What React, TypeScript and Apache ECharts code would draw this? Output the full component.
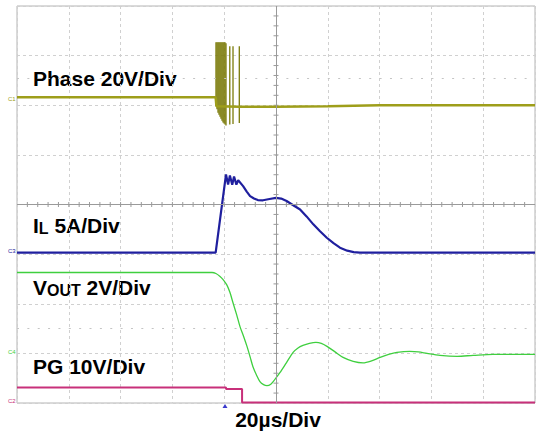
import React, { useEffect, useRef } from "react";
import * as echarts from "echarts";

// Time axis in µs (20 µs/div, 10 divisions), vertical axis in screen divisions (8 divisions, 0 = centre)
const xMin = -100;
const xMax = 100;
const yMin = -4;
const yMax = 4;
const xMinorStep = 4; // 1/5 division
const yMinorStep = 0.2; // 1/5 division

// Phase node (20 V/div) – baseline trace
const phaseTrace: [number, number][] = [
  [-100, 2.16], [-23.3, 2.16], [-23.0, 1.98], [-14.0, 1.97], [0, 1.97], [20, 1.98], [40, 2.0], [100, 2.0],
];
// Phase switching spikes: [time, bottom, top]
const phaseSpikes: [number, number, number][] = [
  [-23.17, 1.98, 3.27], [-22.78, 1.92, 3.27], [-22.39, 1.85, 3.27], [-22.01, 1.81, 3.27],
  [-21.62, 1.77, 3.27], [-21.24, 1.73, 3.27], [-20.85, 1.69, 3.27], [-20.46, 1.65, 3.27],
  [-20.08, 1.63, 3.27], [-19.69, 1.61, 3.27], [-19.31, 1.59, 3.25],
  [-17.84, 1.61, 3.19], [-16.6, 1.62, 3.19], [-14.17, 1.64, 3.19],
];

// Inductor current (5 A/div)
const ilTrace: [number, number][] = [
  [-100, -0.97], [-23.3, -0.97], [-19.3, 0.605], [-18.5, 0.4], [-17.8, 0.585], [-16.9, 0.4],
  [-16.2, 0.565], [-15.3, 0.4], [-14.6, 0.49], [-12.7, 0.37], [-11.3, 0.26], [-10.0, 0.17],
  [-8.5, 0.12], [-7.0, 0.09], [-5.0, 0.085], [-2.5, 0.11], [0, 0.135], [2.0, 0.12], [4.1, 0.07],
  [6.5, -0.01], [9.3, -0.1], [11.8, -0.24], [14.4, -0.4], [17.0, -0.54], [19.6, -0.67],
  [22.2, -0.78], [24.7, -0.87], [27.5, -0.93], [30.0, -0.96], [32.4, -0.97], [100, -0.97],
];

// Output voltage (2 V/div)
const voutTrace: [number, number][] = [
  [-100, -1.37], [-24.7, -1.37], [-23.2, -1.39], [-21.6, -1.45], [-20.5, -1.51], [-19.0, -1.62],
  [-17.8, -1.77], [-16.6, -1.98], [-15.2, -2.22], [-13.9, -2.46], [-12.5, -2.66], [-11.2, -2.86],
  [-10.0, -3.07], [-8.9, -3.27], [-7.5, -3.44], [-6.2, -3.57], [-4.8, -3.63], [-3.5, -3.65],
  [-2.0, -3.62], [-0.5, -3.53], [1.5, -3.39], [4.0, -3.19], [6.6, -2.98], [8.5, -2.89],
  [10.4, -2.84], [12.9, -2.8], [15.4, -2.78], [17.5, -2.8], [19.7, -2.86], [22.8, -2.97],
  [25.9, -3.08], [29.8, -3.16], [33.6, -3.19], [36.9, -3.15], [40.2, -3.08], [43.5, -3.02],
  [46.7, -2.98], [51.7, -2.96], [55.0, -2.97], [58.3, -3.0], [63.3, -3.04], [69.9, -3.06],
  [76.1, -3.04], [83.8, -3.02], [100, -3.02],
];

// Power-good (10 V/div)
const pgTrace: [number, number][] = [
  [-100, -3.69], [-19.3, -3.69], [-19.3, -3.72], [-13.1, -3.72], [-13.1, -3.99], [100, -3.99],
];

const triggerTime = -19.7;

const labelFont = '"Liberation Sans", Arial, sans-serif';

const COLORS = {
  phase: "#9e9e1a",
  phaseSpike: "#7a7a08",
  il: "#1f1f9e",
  vout: "#3fcf3f",
  pg: "#c8307a",
  grid: "#d0d0d0",
  axis: "#9a9a9a",
  frame: "#b4b4b4",
};

// graticule tick marks on the centre cross: [x, y, orientation(0 = on x axis, 1 = on y axis)]
const centreTicks: [number, number, number][] = [];
for (let i = 1; i < Math.round((xMax - xMin) / xMinorStep); i++) centreTicks.push([xMin + i * xMinorStep, 0, 0]);
for (let i = 1; i < Math.round((yMax - yMin) / yMinorStep); i++) centreTicks.push([0, +(yMin + i * yMinorStep).toFixed(2), 1]);

export default function App() {
  const ref = useRef<HTMLDivElement>(null);

  useEffect(() => {
    if (!ref.current) return;
    const chart = echarts.init(ref.current, undefined, { renderer: "svg" });

    const textEl = (text: string, x: number, y: number, rich?: any, align = "left") => ({
      type: "text",
      x,
      y,
      silent: true,
      style: {
        text,
        fill: "#000",
        fontSize: 21,
        fontWeight: "bold",
        fontFamily: labelFont,
        align,
        verticalAlign: "middle",
        rich,
      },
    });

    const subRich = {
      m: { fontSize: 21, fontWeight: "bold", fontFamily: labelFont, lineHeight: 21, fill: "#000", color: "#000" },
      s: { fontSize: 16, fontWeight: "bold", fontFamily: labelFont, lineHeight: 9, verticalAlign: "bottom", fill: "#000", color: "#000" },
    };

    const chanMark = (text: string, y: number, color: string) => ({
      type: "text",
      x: 8,
      y,
      silent: true,
      style: { text, fill: color, fontSize: 6, fontFamily: labelFont, align: "left", verticalAlign: "middle" },
    });

    chart.setOption({
      animation: false,
      backgroundColor: "#ffffff",
      grid: {
        left: 17,
        top: 6,
        right: 2,
        bottom: 29,
        show: true,
        borderColor: COLORS.frame,
        borderWidth: 1,
      },
      xAxis: {
        type: "value",
        min: xMin,
        max: xMax,
        interval: 20,
        axisLine: { show: false },
        axisTick: { show: false },
        axisLabel: { show: false },
        splitLine: { show: true, lineStyle: { color: COLORS.grid, type: [3, 3], width: 1 } },
      },
      yAxis: {
        type: "value",
        min: yMin,
        max: yMax,
        interval: 1,
        axisLine: { show: false },
        axisTick: { show: false },
        axisLabel: { show: false },
        splitLine: { show: true, lineStyle: { color: COLORS.grid, type: [3, 3], width: 1 } },
      },
      series: [
        {
          name: "ticks",
          type: "custom",
          silent: true,
          data: centreTicks,
          encode: { x: 0, y: 1 },
          renderItem: (params: any, api: any) => {
            const p = api.coord([api.value(0), api.value(1)]);
            const vertical = api.value(2) === 0;
            return {
              type: "line",
              shape: vertical
                ? { x1: p[0], y1: p[1] - 2.5, x2: p[0], y2: p[1] + 2.5 }
                : { x1: p[0] - 2.5, y1: p[1], x2: p[0] + 2.5, y2: p[1] },
              style: { stroke: COLORS.axis, lineWidth: 1 },
            };
          },
        },
        {
          name: "Phase",
          type: "line",
          data: phaseTrace,
          showSymbol: false,
          symbol: "none",
          silent: true,
          lineStyle: { color: COLORS.phase, width: 2.5 },
        },
        {
          name: "Phase spikes",
          type: "custom",
          silent: true,
          data: phaseSpikes,
          encode: { x: 0, y: [1, 2] },
          renderItem: (params: any, api: any) => {
            const p1 = api.coord([api.value(0), api.value(1)]);
            const p2 = api.coord([api.value(0), api.value(2)]);
            return {
              type: "line",
              shape: { x1: p1[0], y1: p1[1], x2: p2[0], y2: p2[1] },
              style: { stroke: COLORS.phaseSpike, lineWidth: 1.3 },
            };
          },
        },
        {
          name: "IL",
          type: "line",
          data: ilTrace,
          showSymbol: false,
          symbol: "none",
          silent: true,
          lineStyle: { color: COLORS.il, width: 2.2 },
          markLine: {
            silent: true,
            symbol: "none",
            label: { show: false },
            data: [
              { xAxis: 0, lineStyle: { color: COLORS.axis, type: "solid", width: 1 } },
              { yAxis: 0, lineStyle: { color: COLORS.axis, type: "solid", width: 1 } },
              { yAxis: 2.54, lineStyle: { color: "#c4c4c4", type: [2, 8.36], width: 1 } },
              { yAxis: -2.5, lineStyle: { color: "#c4c4c4", type: [2, 8.36], width: 1 } },
            ],
          },
        },
        {
          name: "VOUT",
          type: "line",
          data: voutTrace,
          smooth: 0.3,
          showSymbol: false,
          symbol: "none",
          silent: true,
          lineStyle: { color: COLORS.vout, width: 1.3 },
        },
        {
          name: "PG",
          type: "line",
          data: pgTrace,
          showSymbol: false,
          symbol: "none",
          silent: true,
          lineStyle: { color: COLORS.pg, width: 2 },
          markPoint: {
            silent: true,
            symbol: "triangle",
            symbolSize: [5, 4],
            symbolOffset: [0, 3],
            label: { show: false },
            itemStyle: { color: "#3a3acc" },
            data: [{ coord: [triggerTime, yMin] }],
          },
        },
      ],
      graphic: [
        textEl("Phase 20V/Div", 33, 78.6),
        textEl("{m|I}{s|L}{m| 5A/Div}", 33, 225.6, subRich),
        textEl("{m|V}{s|OUT}{m| 2V/Div}", 33, 287.6, subRich),
        textEl("PG 10V/Div", 33, 366.6),
        textEl("20µs/Div", 278, 419.6, undefined, "center"),
        chanMark("C1", 99, COLORS.phase),
        chanMark("C3", 251, COLORS.il),
        chanMark("C4", 352, COLORS.vout),
        chanMark("C2", 401, COLORS.pg),
      ],
    });

    return () => chart.dispose();
  }, []);

  return (
    <div
      ref={ref}
      style={{ position: "absolute", left: 0, top: 0, width: 537, height: 432, background: "#fff" }}
    />
  );
}
